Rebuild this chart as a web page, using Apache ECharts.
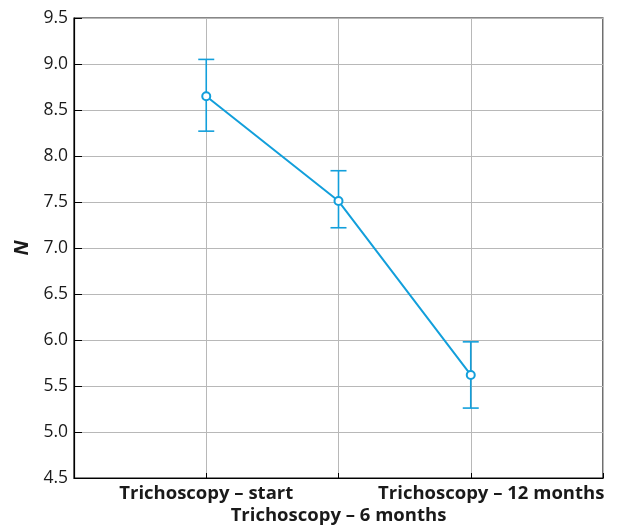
<!DOCTYPE html>
<html><head><meta charset="utf-8">
<script src="https://cdn.jsdelivr.net/npm/echarts@6/dist/echarts.min.js"></script>
<style>html,body{margin:0;padding:0;background:#fff}#c{width:618px;height:526px}</style>
</head><body><div id="c"></div>
<script>
const categories = ["Trichoscopy – start", "Trichoscopy – 6 months", "Trichoscopy – 12 months"];
const means = [8.65, 7.51, 5.62];
const upper = [9.05, 7.84, 5.98];
const lower = [8.27, 7.22, 5.26];
const yTicks = [4.5, 5.0, 5.5, 6.0, 6.5, 7.0, 7.5, 8.0, 8.5, 9.0, 9.5];
const color = '#129fdb';
const font = "'Open Sans', 'Noto Sans', sans-serif";

const chart = echarts.init(document.getElementById('c'));
chart.setOption({
  animation: false,
  grid: {left: 74, right: 15, top: 18, bottom: 48, show: true, borderColor: '#111', borderWidth: 1.2,
         outerBoundsMode: 'none', containLabel: false},
  xAxis: {
    type: 'value', min: 0, max: 4, interval: 1,
    axisLine: {lineStyle: {color: '#000', width: 1.2}},
    axisTick: {inside: true, length: 5, lineStyle: {color: '#000'}},
    splitLine: {show: true, lineStyle: {color: '#b8b8b8', width: 1}},
    axisLabel: {
      margin: 5, color: '#1a1a1a', fontFamily: font, fontSize: 18.5, fontWeight: 'bold', lineHeight: 22,
      formatter: v => {
        if (v === 1) return categories[0];
        if (v === 2) return '\n' + categories[1];
        if (v === 3) return '{s|' + categories[2] + '}';
        return '';
      },
      rich: {s: {fontFamily: font, fontSize: 18.5, fontWeight: 'bold', color: '#1a1a1a', lineHeight: 22, padding: [0, 0, 0, 41]}}
    }
  },
  yAxis: {
    type: 'value', min: 4.5, max: 9.5, interval: 0.5,
    name: 'N', nameLocation: 'middle', nameGap: 41, nameRotate: 90,
    nameTextStyle: {fontFamily: font, fontSize: 20, fontWeight: 'bold', fontStyle: 'italic', color: '#1a1a1a'},
    axisLine: {show: true, lineStyle: {color: '#000', width: 1.2}},
    axisTick: {show: true, inside: true, length: 8, lineStyle: {color: '#000'}},
    splitLine: {show: true, lineStyle: {color: '#b8b8b8', width: 1}},
    axisLabel: {margin: 6, color: '#1a1a1a', fontFamily: font, fontSize: 17.5,
      formatter: v => yTicks.find(t => Math.abs(t - v) < 1e-6).toFixed(1)}
  },
  series: [
    {
      type: 'custom',
      data: categories.map((c, i) => [i + 1, lower[i], upper[i]]),
      renderItem: (params, api) => {
        const lo = api.coord([api.value(0), api.value(1)]);
        const hi = api.coord([api.value(0), api.value(2)]);
        const w = 8;
        const st = {stroke: color, lineWidth: 1.6};
        return {type: 'group', children: [
          {type: 'line', shape: {x1: lo[0], y1: lo[1], x2: hi[0], y2: hi[1]}, style: st},
          {type: 'line', shape: {x1: lo[0] - w, y1: lo[1], x2: lo[0] + w, y2: lo[1]}, style: st},
          {type: 'line', shape: {x1: hi[0] - w, y1: hi[1], x2: hi[0] + w, y2: hi[1]}, style: st}
        ]};
      },
      z: 3
    },
    {
      type: 'line',
      data: categories.map((c, i) => [i + 1, means[i]]),
      symbol: 'emptyCircle', symbolSize: 8,
      lineStyle: {color: color, width: 2},
      itemStyle: {color: color, borderWidth: 1.8},
      z: 4
    }
  ]
});
</script></body></html>
